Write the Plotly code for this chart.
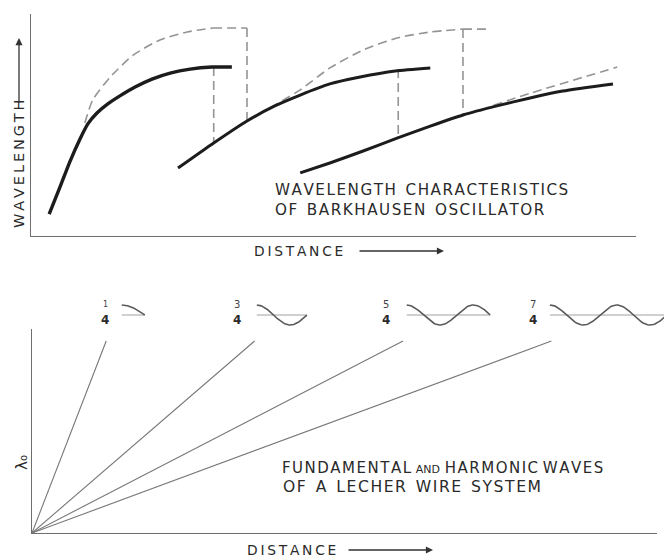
import numpy as np
import plotly.graph_objects as go

# ---------------- data: top chart (Barkhausen oscillator) ----------------
curve1_x = [3.0, 4.8, 6.4, 8.1, 9.4, 10.9, 12.7, 14.7, 17.2, 20.0, 23.0, 26.3, 29.9, 33.2]
curve1_y = [9.9, 22.1, 33.3, 43.7, 50.5, 55.4, 59.5, 63.1, 67.1, 70.7, 73.4, 75.2, 76.1, 76.1]
env1_x = [8.9, 10.2, 13.1, 16.9, 21.3, 25.8, 30.1]
env1_y = [50.9, 61.3, 71.6, 81.5, 88.3, 91.9, 93.7]
env1_top_x = [30.1, 35.7]
env1_drop_y = [93.7, 52.3]
drop1_x = 30.2
drop1_y = [76.1, 42.3]

curve2_x = [24.3, 30.2, 35.7, 40.3, 44.5, 49.4, 54.4, 60.2, 66.0]
curve2_y = [30.6, 41.9, 51.8, 58.6, 63.5, 68.5, 71.6, 74.3, 75.7]
env2_x = [39.5, 44.5, 49.4, 54.9, 60.5, 66.0, 71.4]
env2_y = [57.7, 65.8, 75.7, 83.8, 89.2, 91.9, 93.2]
env2_top_x = [71.4, 75.4]
env2_drop_y = [93.2, 54.5]
drop2_x = 60.7
drop2_y = [75.2, 44.6]

curve3_x = [44.5, 49.4, 54.9, 60.5, 66.0, 71.4, 77.0, 82.5, 87.9, 96.2]
curve3_y = [28.4, 32.9, 38.3, 44.1, 49.5, 54.5, 58.6, 62.2, 65.3, 68.5]
env3_x = [74.2, 82.5, 96.9]
env3_y = [56.8, 64.3, 76.1]

# ---------------- data: bottom chart (Lecher wire) ----------------
harmonics = [1, 3, 5, 7]            # quarter-wave multiples
fraction_num = ["1", "3", "5", "7"]
fraction_den = "4"

# ---------------- layout constants ----------------
W, H = 664, 558
def px(x):
    return x / W
def py(y):
    return 1 - y / H

SOLID = "#1c1c1c"
DASH = "#949494"
AXIS = "#6e6e6e"
TEXT = "#2a2a2a"
FONT = "DejaVu Sans"
HS = "\u200a"   # hair space for letter spacing
TS = "\u2009"   # thin space

def spaced(s, sp=HS):
    return sp.join(list(s))

fig = go.Figure()

def add(x, y, xa, ya, color, width, dash="solid", shape="linear", smoothing=0.6):
    fig.add_trace(go.Scatter(x=x, y=y, xaxis=xa, yaxis=ya, mode="lines",
                             line=dict(color=color, width=width, dash=dash,
                                       shape=shape, smoothing=smoothing),
                             hoverinfo="skip", showlegend=False))

dsh = "9px,5px"
# dashed envelopes & drops
add(env1_x, env1_y, "x", "y", DASH, 1.6, dsh, "spline")
add(env1_top_x, [env1_y[-1]] * 2, "x", "y", DASH, 1.6, dsh)
add([env1_top_x[-1]] * 2, env1_drop_y, "x", "y", DASH, 1.6, dsh)
add([drop1_x] * 2, drop1_y, "x", "y", DASH, 1.6, dsh)
add(env2_x, env2_y, "x", "y", DASH, 1.6, dsh, "spline")
add(env2_top_x, [env2_y[-1]] * 2, "x", "y", DASH, 1.6, dsh)
add([env2_top_x[0]] * 2, env2_drop_y, "x", "y", DASH, 1.6, dsh)
add([drop2_x] * 2, drop2_y, "x", "y", DASH, 1.6, dsh)
add(env3_x, env3_y, "x", "y", DASH, 1.6, dsh, "spline")
# solid curves
add(curve1_x, curve1_y, "x", "y", SOLID, 3.4, shape="spline")
add(curve2_x, curve2_y, "x", "y", SOLID, 3.0, shape="spline")
add(curve3_x, curve3_y, "x", "y", SOLID, 3.0, shape="spline")

# bottom radiating lines
for n in harmonics:
    add([0, n], [0, 1], "x2", "y2", "#777777", 1.1)

# wave icons (axis x3/y3)
icon_start = [1.21, 3.03, 5.05, 6.98]
quarter_w = [0.31, 0.225, 0.225, 0.225]
for n, s, q in zip(harmonics, icon_start, quarter_w):
    th = np.linspace(0, n * np.pi / 2, 80)
    xs = s + th / (np.pi / 2) * q
    add([xs[0], xs[-1]], [0, 0], "x3", "y3", "#a0a0a0", 1.0)
    add(xs, np.cos(th), "x3", "y3", "#5a5a5a", 1.6)

ax_common = dict(showgrid=False, zeroline=False, showticklabels=False, ticks="",
                 fixedrange=True)
bx0 = 32
unit = 74.2
fig.update_layout(
    width=W, height=H, margin=dict(l=0, r=0, t=0, b=0),
    paper_bgcolor="white", plot_bgcolor="rgba(0,0,0,0)",
    xaxis=dict(domain=[px(31), px(636)], range=[0, 100], anchor="y",
               showline=True, linecolor=AXIS, linewidth=1.3, **ax_common),
    yaxis=dict(domain=[py(236), py(14)], range=[0, 100], anchor="x",
               showline=True, linecolor=AXIS, linewidth=1.3, **ax_common),
    xaxis2=dict(domain=[px(bx0), px(657)], range=[0, (657 - bx0) / unit], anchor="y2",
                showline=True, linecolor=AXIS, linewidth=1.3, **ax_common),
    yaxis2=dict(domain=[py(533), py(329)], range=[0, 204 / 192], anchor="x2",
                showline=True, linecolor=AXIS, linewidth=1.3, **ax_common),
    xaxis3=dict(domain=[px(bx0), 1], range=[0, (W - bx0) / unit], anchor="y3",
                showline=False, **ax_common),
    yaxis3=dict(domain=[py(332), py(298)], range=[-1.7, 1.7], anchor="x3",
                showline=False, **ax_common),
    font=dict(family=FONT, color=TEXT),
)

ann = []
def text(x, y, t, size, xanchor="left", angle=0, color=TEXT):
    ann.append(dict(x=px(x), y=py(y), xref="paper", yref="paper", text=t,
                    showarrow=False, xanchor=xanchor, yanchor="middle",
                    textangle=angle, font=dict(size=size, color=color, family=FONT)))

def arrow(x_tip, y_tip, ax, ay):
    ann.append(dict(x=px(x_tip), y=py(y_tip), xref="paper", yref="paper", text="",
                    showarrow=True, ax=ax, ay=ay, axref="pixel", ayref="pixel",
                    arrowhead=2, arrowsize=1.1, arrowwidth=1.3, arrowcolor="#333"))

# top chart labels
text(273, 190, spaced("WAVELENGTH") + "  " + spaced("CHARACTERISTICS"), 15.2)
text(273, 210, spaced("OF") + "  " + spaced("BARKHAUSEN") + "  " + spaced("OSCILLATOR"), 15.2)
text(19, 164, spaced("WAVELENGTH", TS), 14.5, xanchor="center", angle=-90)
arrow(19, 38, 0, 66)
text(252, 251, spaced("DISTANCE", TS), 13.8)
arrow(444, 251, -86, 0)

# bottom chart labels
text(280, 468, spaced("FUNDAMENTAL") + " <span style='font-size:11px'>AND</span> "
     + spaced("HARMONIC") + " " + spaced("WAVES"), 15)
text(281, 487, spaced("OF") + "  " + spaced("A") + "  " + spaced("LECHER") + "  "
     + spaced("WIRE") + "  " + spaced("SYSTEM"), 15.6)
text(22, 463, "λ<span style='font-size:10px'>o</span>", 15, xanchor="center", angle=-90)
text(245, 550, spaced("DISTANCE", TS), 13.8)
arrow(433, 550, -86, 0)

# fraction labels above icons
frac_x = [105, 237, 386, 533]
for i, (fx, num) in enumerate(zip(frac_x, fraction_num)):
    text(fx, 304, num, 8 if i == 0 else 10, xanchor="center", color="#444")
    text(fx, 320, "<b>" + fraction_den + "</b>", 12, xanchor="center")

fig.update_layout(annotations=ann)
fig.write_html("out.html", config={"displayModeBar": False},
               post_script="document.body.style.margin='0px';")
